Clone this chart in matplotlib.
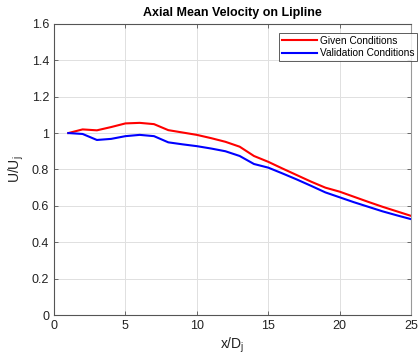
import matplotlib
matplotlib.use("Agg")
import matplotlib.pyplot as plt

x = list(range(1, 26))
given = [1.0, 1.02, 1.015, 1.033, 1.053, 1.056, 1.049, 1.016, 1.003, 0.99,
         0.972, 0.952, 0.925, 0.874, 0.842, 0.805, 0.769, 0.733, 0.70, 0.678,
         0.65, 0.622, 0.595, 0.57, 0.545]
valid = [1.0, 0.995, 0.962, 0.968, 0.983, 0.99, 0.983, 0.949, 0.938, 0.928,
         0.915, 0.90, 0.874, 0.83, 0.81, 0.778, 0.745, 0.71, 0.674, 0.647,
         0.62, 0.595, 0.57, 0.548, 0.527]
xticks = [0, 5, 10, 15, 20, 25]
yticks = [0, 0.2, 0.4, 0.6, 0.8, 1, 1.2, 1.4, 1.6]
ytick_labels = ["0", "0.2", "0.4", "0.6", "0.8", "1", "1.2", "1.4", "1.6"]

plt.rcParams['font.family'] = ['Liberation Sans', 'DejaVu Sans']
fig = plt.figure(figsize=(4.19, 3.56), dpi=100)
ax = fig.add_axes([0.129, 0.115, 0.852, 0.818])
ax.plot(x, given, color='#ff0000', lw=1.5, label='Given Conditions')
ax.plot(x, valid, color='#0000ff', lw=1.5, label='Validation Conditions')
ax.set_xlim(0, 25)
ax.set_ylim(0, 1.6)
ax.set_xticks(xticks)
ax.set_yticks(yticks)
ax.set_yticklabels(ytick_labels)
ax.grid(True, color='#e0e0e0', lw=0.7)
ax.set_axisbelow(True)
for s in ax.spines.values():
    s.set_color('#555555')
    s.set_linewidth(0.8)
ax.spines['right'].set_color('#999999')
ax.tick_params(direction='in', top=True, right=True, length=3, color='#555555',
               labelsize=9, labelcolor='#222222', width=0.6)
ax.set_title('Axial Mean Velocity on Lipline', fontsize=9, fontweight='bold', pad=6)
ax.set_xlabel('x/D$_\\mathregular{j}$', fontsize=10, color='#222222', labelpad=3)
ax.set_ylabel('U/U$_\\mathregular{j}$', fontsize=10, color='#222222', labelpad=4)
leg = ax.legend(loc='upper right', bbox_to_anchor=(1.017, 0.969), fontsize=7.3,
                frameon=True, fancybox=False, edgecolor='#333333', borderpad=0.3,
                handlelength=3.4, labelspacing=0.25, handletextpad=0.3,
                borderaxespad=0)
leg.get_frame().set_linewidth(0.7)
fig.savefig('out.png', dpi=100)
